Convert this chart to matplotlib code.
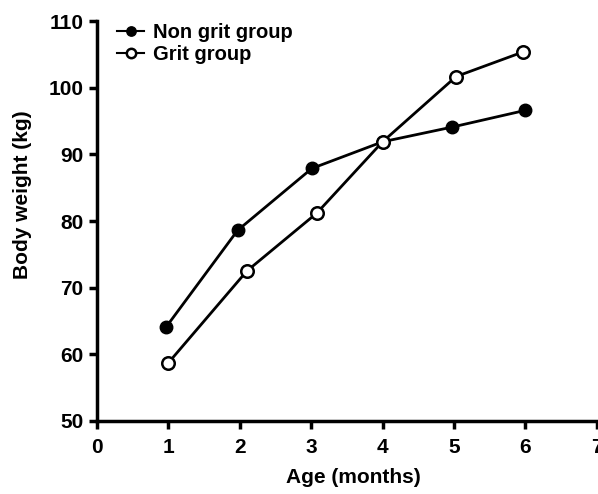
import numpy as np
import matplotlib.pyplot as plt

plt.rcParams['font.family'] = ['Liberation Sans', 'DejaVu Sans']
plt.rcParams['font.weight'] = 'bold'

# data
age_non_grit = [0.97, 1.97, 3.01, 4.0, 4.97, 5.99]
weight_non_grit = [64.1, 78.6, 87.9, 91.9, 94.1, 96.6]

age_grit = [1.0, 2.1, 3.08, 4.0, 5.03, 5.97]
weight_grit = [58.7, 72.5, 81.2, 91.9, 101.7, 105.4]

fig = plt.figure(figsize=(5.98, 4.94), dpi=100)
ax = fig.add_axes([0.162, 0.148, 0.836, 0.809])

ax.plot(age_non_grit, weight_non_grit, color='black', lw=2, marker='o',
        ms=9, mfc='black', mec='black', label='Non grit group')
ax.plot(age_grit, weight_grit, color='black', lw=2, marker='o',
        ms=9, mfc='white', mec='black', mew=1.8, label='Grit group')

ax.set_xlim(0, 7)
ax.set_ylim(50, 110)
ax.set_xticks(range(0, 8))
ax.set_yticks(range(50, 111, 10))

ax.spines['top'].set_visible(False)
ax.spines['right'].set_visible(False)
ax.spines['left'].set_linewidth(2.5)
ax.spines['bottom'].set_linewidth(2.5)
ax.tick_params(direction='out', length=6, width=2.5, labelsize=15)
ax.tick_params(axis='x', pad=6)

ax.set_xlabel('Age (months)', fontsize=15, fontweight='bold')
ax.set_ylabel('Body weight (kg)', fontsize=15, fontweight='bold')
ax.xaxis.set_label_coords(0.514, -0.118)
ax.yaxis.set_label_coords(-0.13, 0.567)

leg = ax.legend(loc='upper left', frameon=False, fontsize=14.5, handlelength=1.3,
                handletextpad=0.45, borderaxespad=0.0, labelspacing=0.15,
                markerscale=0.75, bbox_to_anchor=(0.025, 1.015))
for line in leg.get_lines():
    line.set_linewidth(1.5)

plt.savefig('out.png', dpi=100)
plt.close(fig)
